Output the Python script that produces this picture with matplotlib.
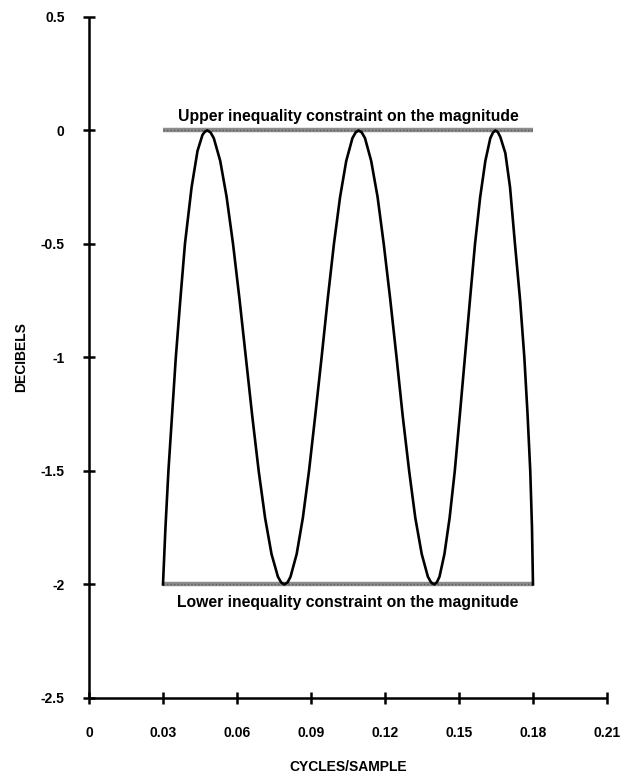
import matplotlib
matplotlib.use("Agg")
import matplotlib.pyplot as plt

# Passband magnitude response (cycles/sample, dB)
freq = [
    0.0300, 0.0310, 0.0322, 0.0337, 0.0352, 0.0370, 0.0389, 0.0416, 0.0440, 0.0460,
    0.0470, 0.0480, 0.0493, 0.0506, 0.0532, 0.0558, 0.0584, 0.0610, 0.0636, 0.0662,
    0.0688, 0.0714, 0.0740, 0.0766, 0.0779, 0.0792, 0.0805, 0.0817, 0.0842, 0.0867,
    0.0892, 0.0917, 0.0943, 0.0968, 0.0993, 0.1018, 0.1043, 0.1068, 0.1081, 0.1093,
    0.1106, 0.1119, 0.1144, 0.1170, 0.1195, 0.1221, 0.1247, 0.1272, 0.1298, 0.1323,
    0.1349, 0.1374, 0.1387, 0.1400, 0.1410, 0.1421, 0.1441, 0.1462, 0.1483, 0.1503,
    0.1524, 0.1545, 0.1565, 0.1586, 0.1607, 0.1627, 0.1638, 0.1648, 0.1658, 0.1668,
    0.1688, 0.1707, 0.1727, 0.1748, 0.1765, 0.1778, 0.1789, 0.1796, 0.1800,
]
magnitude_db = [
    -2.000, -1.750, -1.500, -1.250, -1.000, -0.750, -0.500, -0.250, -0.090, -0.020,
    -0.005, 0.000, -0.009, -0.034, -0.134, -0.293, -0.500, -0.741, -1.000, -1.259,
    -1.500, -1.707, -1.866, -1.966, -1.991, -2.000, -1.991, -1.966, -1.866, -1.707,
    -1.500, -1.259, -1.000, -0.741, -0.500, -0.293, -0.134, -0.034, -0.009, 0.000,
    -0.009, -0.034, -0.134, -0.293, -0.500, -0.741, -1.000, -1.259, -1.500, -1.707,
    -1.866, -1.966, -1.991, -2.000, -1.991, -1.966, -1.866, -1.707, -1.500, -1.259,
    -1.000, -0.741, -0.500, -0.293, -0.134, -0.034, -0.009, 0.000, -0.008, -0.030,
    -0.100, -0.250, -0.500, -0.750, -1.000, -1.250, -1.500, -1.750, -2.000,
]

# Inequality constraints on the magnitude over the passband
band_edges = [0.03, 0.18]
upper_bound_db = 0.0
lower_bound_db = -2.0

x_ticks = [0, 0.03, 0.06, 0.09, 0.12, 0.15, 0.18, 0.21]
x_tick_labels = ["0", "0.03", "0.06", "0.09", "0.12", "0.15", "0.18", "0.21"]
y_ticks = [-2.5, -2, -1.5, -1, -0.5, 0, 0.5]
y_tick_labels = ["-2.5", "-2", "-1.5", "-1", "-0.5", "0", "0.5"]

plt.rcParams["font.family"] = ["Liberation Sans", "DejaVu Sans"]

fig = plt.figure(figsize=(6.32, 7.77), dpi=100)
ax = fig.add_axes([0.1408, 0.1017, 0.8196, 0.8765])

# constraint bands
for level in (upper_bound_db, lower_bound_db):
    ax.plot(band_edges, [level, level], color="#8c8c8c", lw=3.2,
            solid_capstyle="butt", zorder=2)
    ax.plot(band_edges, [level, level], color="#5a5a5a", lw=1.0,
            ls=(0, (1, 1.5)), solid_capstyle="butt", zorder=2)

ax.plot(freq, magnitude_db, color="black", lw=1.9, zorder=3,
        solid_joinstyle="round")

ax.text(0.105, 0.03, "Upper inequality constraint on the magnitude",
        ha="center", va="bottom", fontsize=11.3, fontweight="bold")
ax.text(0.105, -2.045, "Lower inequality constraint on the magnitude",
        ha="center", va="top", fontsize=11.3, fontweight="bold")

ax.set_xlim(0, 0.21)
ax.set_ylim(-2.5, 0.5)
ax.set_xticks(x_ticks)
ax.set_xticklabels(x_tick_labels)
ax.set_yticks(y_ticks)
ax.set_yticklabels(y_tick_labels)

for side in ("top", "right"):
    ax.spines[side].set_visible(False)
for side in ("left", "bottom"):
    ax.spines[side].set_linewidth(1.8)
    ax.spines[side].set_capstyle("butt")

ax.tick_params(axis="both", direction="inout", length=9, width=1.8,
               labelsize=10)
ax.tick_params(axis="x", pad=16)
ax.tick_params(axis="y", pad=13)
for lbl in ax.get_xticklabels() + ax.get_yticklabels():
    lbl.set_fontweight("bold")

ax.set_xlabel("CYCLES/SAMPLE", fontsize=10, fontweight="bold", labelpad=14)
ax.set_ylabel("DECIBELS", fontsize=10, fontweight="bold", labelpad=9)
ax.patch.set_visible(False)

fig.savefig("out.png", dpi=100)
